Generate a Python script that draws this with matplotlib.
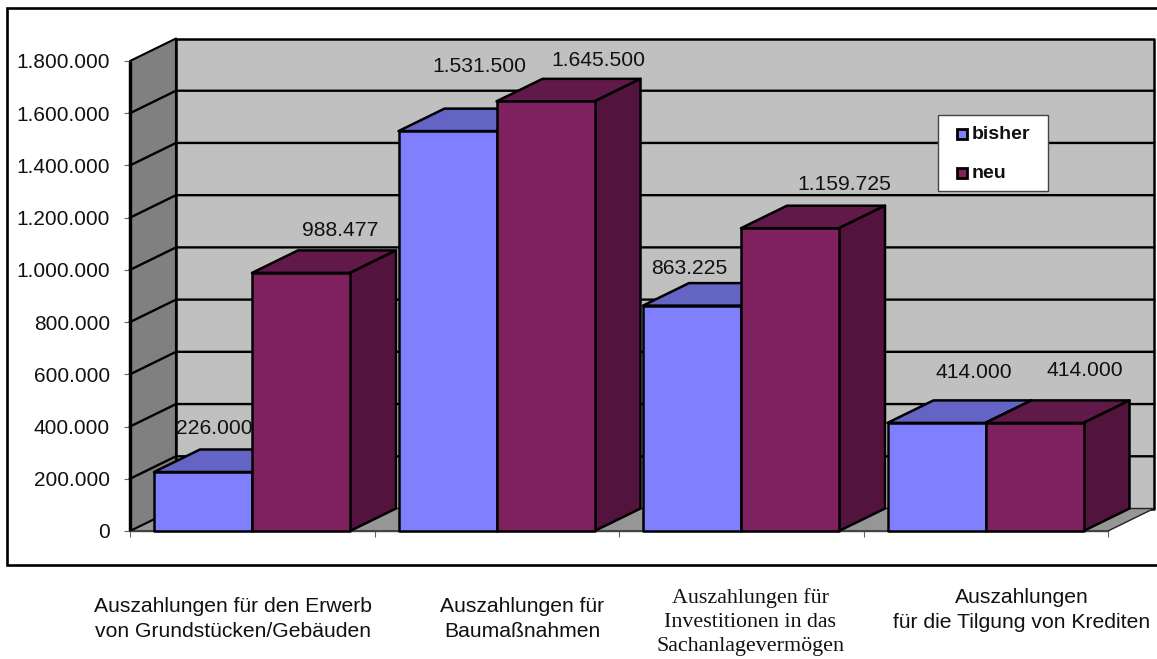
""" 3D style bar chart drawn with flat polygons """
import matplotlib
matplotlib.use("Agg")
import matplotlib.pyplot as plt
from matplotlib.lines import Line2D
from matplotlib.patches import Polygon, Rectangle

W, H = 1157, 659

bisher = [226000, 1531500, 863225, 414000]
neu = [988477, 1645500, 1159725, 414000]
y_ticks = [0, 200000, 400000, 600000, 800000, 1000000, 1200000, 1400000, 1600000, 1800000]

bisher_labels = ["226.000", "1.531.500", "863.225", "414.000"]
neu_labels = ["988.477", "1.645.500", "1.159.725", "414.000"]
series_names = ["bisher", "neu"]

# label centres in pixels of the picture
bisher_label_pos = [(214, 429), (479, 66), (689, 268), (974, 373)]
neu_label_pos = [(340, 230), (598, 60), (844, 185), (1085, 371)]

cat_labels = ["Auszahlungen für den Erwerb\nvon Grundstücken/Gebäuden",
              "Auszahlungen für\nBaumaßnahmen",
              "Auszahlungen für\nInvestitionen in das\nSachanlagevermögen",
              "Auszahlungen\nfür die Tilgung von Krediten"]
cat_label_pos = [(233, 619), (522, 619), (750, 622), (1022, 610)]

BLUE = ("#8080ff", "#6464c4", "#4e4e9c")
PURPLE = ("#80215f", "#61194a", "#52143d")
WALL = "#c0c0c0"
SIDE = "#808080"
FLOOR = "#969696"

plt.rcParams['font.family'] = ['Liberation Sans', 'DejaVu Sans']

fig = plt.figure(figsize=(W / 100, H / 100), dpi=100)


def fx(px):
    return px / W


def fy(py):
    return 1 - py / H


ax = fig.add_axes([fx(130), fy(531), fx(1108) - fx(130), fy(61) - fy(531)])
ax.set_xlim(0, 4)
ax.set_ylim(0, 1800000)
ax.patch.set_visible(False)
for s in ax.spines.values():
    s.set_visible(False)

# depth of the fake 3D in data units
DX = 46 / 244.5
DY = 22.5 * 1800000 / 470


def poly(points, color, lw=1.8, edge="k", z=2):
    ax.add_patch(Polygon(points, closed=True, facecolor=color, edgecolor=edge,
                         linewidth=lw, clip_on=False, zorder=z, joinstyle="round"))


def bar(x, w, v, colors, z):
    poly([(x, v), (x + DX, v + DY), (x + w + DX, v + DY), (x + w, v)], colors[1], z=z)
    poly([(x + w, 0), (x + w + DX, DY), (x + w + DX, v + DY), (x + w, v)], colors[2], z=z)
    poly([(x, 0), (x + w, 0), (x + w, v), (x, v)], colors[0], z=z + 0.1)


top = y_ticks[-1]
# back wall, floor and left wall
poly([(DX, DY), (4 + DX, DY), (4 + DX, top + DY), (DX, top + DY)], WALL, z=1)
poly([(0, 0), (4, 0), (4 + DX, DY), (DX, DY)], FLOOR, lw=1, edge="#222222", z=1.2)
poly([(0, 0), (DX, DY), (DX, top + DY), (0, top)], SIDE, lw=1.5, z=1.2)
for v in y_ticks[1:-1]:
    ax.plot([0, DX, 4 + DX], [v, v + DY, v + DY], color="k", lw=1.7, zorder=1.5, clip_on=False)
ax.plot([0, 0], [0, top], color="k", lw=2.4, zorder=1.6, clip_on=False, solid_capstyle="butt")
ax.plot([0, 4], [0, 0], color="#444444", lw=1, zorder=1.6, clip_on=False)

BAR_W = 98 / 244.5
for i in range(len(bisher)):
    x0 = i + 24 / 244.5
    bar(x0, BAR_W, bisher[i], BLUE, 2 + i)
    bar(x0 + BAR_W, BAR_W, neu[i], PURPLE, 2.5 + i)

ax.set_yticks(y_ticks)
ax.set_yticklabels([f"{v:,}".replace(",", ".") for v in y_ticks], fontsize=15, color="#111111")
ax.set_xticks(range(5))
ax.set_xticklabels([])
ax.tick_params(axis="both", length=4, width=0.8, color="#666666")
ax.tick_params(axis="y", pad=10.5)

for txt, pos in zip(bisher_labels + neu_labels, bisher_label_pos + neu_label_pos):
    fig.text(fx(pos[0]), fy(pos[1]), txt, fontsize=15.2, color="#111111",
             ha="center", va="center", zorder=10)

for i, (txt, pos) in enumerate(zip(cat_labels, cat_label_pos)):
    # the third label is set in a serif face in the original
    family = "Liberation Serif" if i == 2 else "Liberation Sans"
    size = 15.8 if i == 2 else 15.2
    fig.text(fx(pos[0]), fy(pos[1]), txt, fontsize=size, family=family, color="#111111",
             ha="center", va="center", linespacing=1.33 if i == 2 else 1.37)

# legend box, placed by hand to get the margins of the original
fig.add_artist(Rectangle((fx(938), fy(191)), fx(110), fy(115) - fy(191), transform=fig.transFigure,
                         facecolor="w", edgecolor="#444444", linewidth=1, zorder=11))
for name, colors, yp in zip(series_names, (BLUE, PURPLE), (134, 173)):
    fig.add_artist(Rectangle((fx(957), fy(yp + 5)), fx(10), fy(yp - 5) - fy(yp + 5), transform=fig.transFigure,
                             facecolor=colors[0], edgecolor="k", linewidth=2, zorder=12))
    fig.text(fx(972), fy(yp + 0.5), name, fontsize=14, weight="bold", color="#111111",
             ha="left", va="center", zorder=12)

# outer frame, the right side runs off the picture
fig.add_artist(Line2D([fx(W), fx(7), fx(7), fx(W)], [fy(8), fy(8), fy(565), fy(565)],
                      color="k", lw=1.9, solid_joinstyle="miter"))

plt.savefig("out.png", dpi=100)
